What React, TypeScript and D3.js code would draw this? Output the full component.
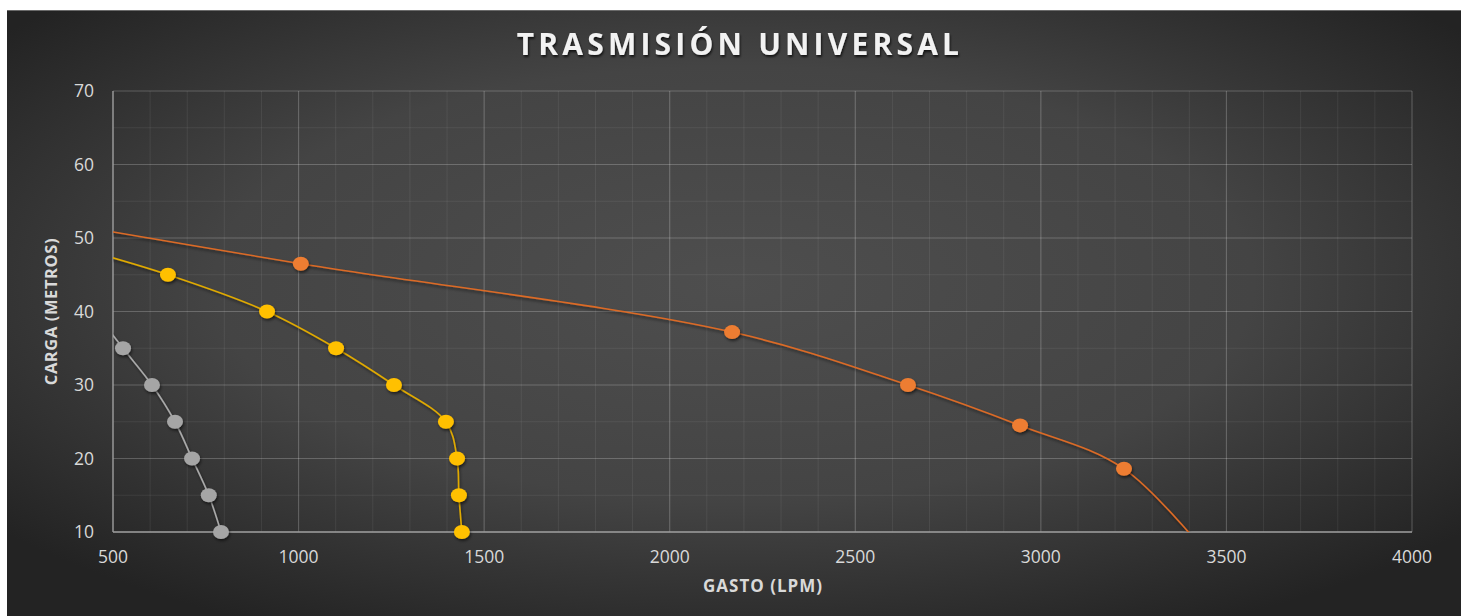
import React from "react";
import * as d3 from "d3";

const TITLE = "TRASMISIÓN UNIVERSAL";
const X_LABEL = "GASTO (LPM)";
const Y_LABEL = "CARGA (METROS)";

const xTicks = [500, 1000, 1500, 2000, 2500, 3000, 3500, 4000];
const yTicks = [10, 20, 30, 40, 50, 60, 70];

// series (gasto LPM, carga m). First/last points of some series lie outside the visible axes.
const grayQ = [450, 527, 605, 667, 713, 758, 791];
const grayH = [40, 35, 30, 25, 20, 15, 10];

const yellowQ = [380, 648, 915, 1101, 1257, 1397, 1427, 1432, 1440];
const yellowH = [49, 45, 40, 35, 30, 25, 20, 15, 10];

const orangeQ = [250, 1006, 2168, 2642, 2944, 3224, 3480];
const orangeH = [53, 46.5, 37.2, 30, 24.5, 18.6, 5];

const series = [
  { name: "gris", q: grayQ, h: grayH, color: "#a5a5a5", line: "#a9a9a9" },
  { name: "amarillo", q: yellowQ, h: yellowH, color: "#ffc000", line: "#e0aa00" },
  { name: "naranja", q: orangeQ, h: orangeH, color: "#ed7d31", line: "#dc6b26" },
];

const W = 1466;
const H = 616;
const M = { left: 113, right: 1412, top: 91, bottom: 532 };

export default function App() {
  const x = d3.scaleLinear().domain([500, 4000]).range([M.left, M.right]);
  const y = d3.scaleLinear().domain([10, 70]).range([M.bottom, M.top]);
  const minorX = d3.range(500, 4001, 100);
  const minorY = d3.range(10, 71, 5);
  const line = d3
    .line<[number, number]>()
    .x((d) => x(d[0]))
    .y((d) => y(d[1]))
    .curve(d3.curveCatmullRom.alpha(0.5));
  const font = "'Open Sans', 'DejaVu Sans', sans-serif";
  return (
    <svg
      width={W}
      height={H}
      style={{ position: "absolute", left: 0, top: 0, background: "#fff" }}
    >
      <defs>
        <radialGradient id="bg" cx="50%" cy="45%" r="65%">
          <stop offset="0%" stopColor="#4e4e4e" />
          <stop offset="55%" stopColor="#444444" />
          <stop offset="100%" stopColor="#232323" />
        </radialGradient>
        <clipPath id="plot">
          <rect x={M.left} y={M.top} width={M.right - M.left} height={M.bottom - M.top} />
        </clipPath>
        <filter id="shadow" x="-50%" y="-50%" width="200%" height="200%">
          <feDropShadow dx="1" dy="2" stdDeviation="1.5" floodColor="#000" floodOpacity="0.55" />
        </filter>
        <filter id="tshadow" x="-10%" y="-30%" width="120%" height="160%">
          <feDropShadow dx="1" dy="2" stdDeviation="1.2" floodColor="#000" floodOpacity="0.7" />
        </filter>
      </defs>
      <rect x={7} y={10} width={1454} height={606} fill="url(#bg)" />
      <line x1={7} x2={1461} y1={10.5} y2={10.5} stroke="#6a6a6a" strokeWidth={1} />

      {/* minor grid */}
      {minorX.map((v) => (
        <line key={"mx" + v} x1={x(v)} x2={x(v)} y1={M.top} y2={M.bottom} stroke="#ffffff" strokeOpacity={0.07} strokeWidth={1} />
      ))}
      {minorY.map((v) => (
        <line key={"my" + v} x1={M.left} x2={M.right} y1={y(v)} y2={y(v)} stroke="#ffffff" strokeOpacity={0.07} strokeWidth={1} />
      ))}
      {/* major grid */}
      {xTicks.map((v) => (
        <line key={"gx" + v} x1={x(v)} x2={x(v)} y1={M.top} y2={M.bottom} stroke="#ffffff" strokeOpacity={0.16} strokeWidth={1.2} />
      ))}
      {yTicks.map((v) => (
        <line key={"gy" + v} x1={M.left} x2={M.right} y1={y(v)} y2={y(v)} stroke="#ffffff" strokeOpacity={0.16} strokeWidth={1.2} />
      ))}
      {/* axes */}
      <line x1={M.left} x2={M.left} y1={M.top} y2={M.bottom} stroke="#9a9a9a" strokeWidth={1.3} />
      <line x1={M.left} x2={M.right} y1={M.bottom} y2={M.bottom} stroke="#9a9a9a" strokeWidth={1.3} />

      {/* tick labels */}
      {yTicks.map((v) => (
        <text key={"ty" + v} x={94} y={y(v)} dy="0.35em" textAnchor="end" fill="#d9d9d9" fontSize={17.5} fontFamily={font}>
          {v}
        </text>
      ))}
      {xTicks.map((v) => (
        <text key={"tx" + v} x={x(v)} y={557} dy="0.35em" textAnchor="middle" fill="#d9d9d9" fontSize={17.5} fontFamily={font}>
          {v}
        </text>
      ))}

      {/* axis titles */}
      <text x={763} y={586} dy="0.35em" textAnchor="middle" fill="#d9d9d9" fontSize={17} fontWeight="bold" letterSpacing={1} fontFamily={font}>
        {X_LABEL}
      </text>
      <text
        transform={`translate(51, ${(M.top + M.bottom) / 2}) rotate(-90)`}
        dy="0.35em"
        textAnchor="middle"
        fill="#d9d9d9"
        fontSize={16.5}
        fontWeight="bold"
        letterSpacing={0.6}
        fontFamily={font}
      >
        {Y_LABEL}
      </text>

      {/* title */}
      <text x={740} y={44} dy="0.35em" textAnchor="middle" fill="#f2f2f2" fontSize={30} fontWeight="bold" letterSpacing={4.2} fontFamily={font} filter="url(#tshadow)">
        {TITLE}
      </text>

      {/* lines */}
      <g clipPath="url(#plot)">
        {series.map((s) => (
          <path
            key={s.name}
            d={line(s.q.map((q, i) => [q, s.h[i]] as [number, number])) || ""}
            fill="none"
            stroke={s.line}
            strokeWidth={1.6}
            filter="url(#shadow)"
          />
        ))}
      </g>
      {/* markers */}
      {series.map((s) =>
        s.q.map((q, i) =>
          q >= 500 && q <= 4000 && s.h[i] >= 10 && s.h[i] <= 70 ? (
            <ellipse
              key={s.name + i}
              cx={x(q)}
              cy={y(s.h[i])}
              rx={8}
              ry={7}
              fill={s.color}
              filter="url(#shadow)"
            />
          ) : null
        )
      )}
    </svg>
  );
}
